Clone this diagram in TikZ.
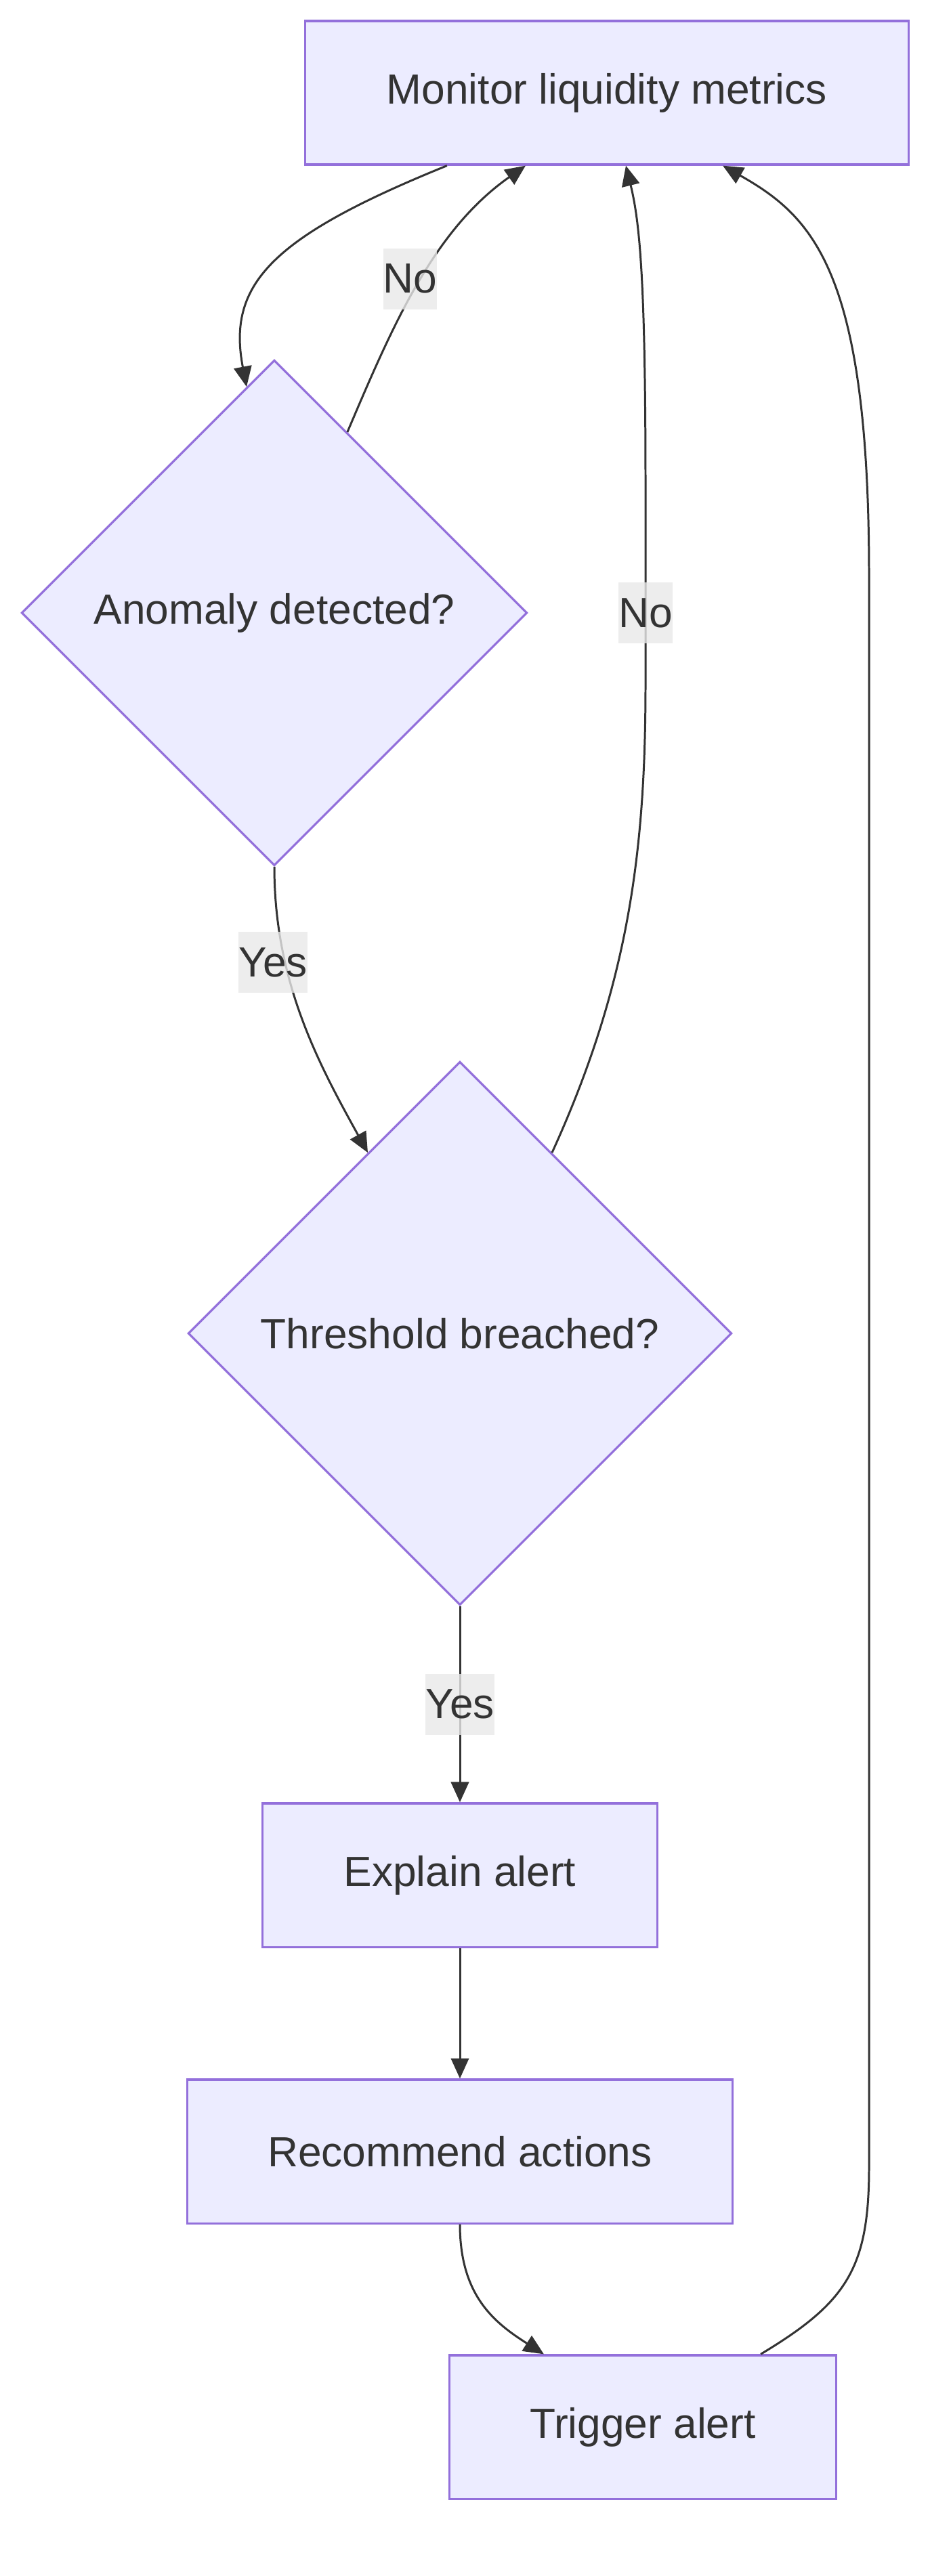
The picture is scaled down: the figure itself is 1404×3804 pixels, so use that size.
\documentclass[tikz,border=0pt]{standalone}
\usepackage{fontspec}
\setmainfont{Liberation Sans}
\usetikzlibrary{arrows.meta, shapes.geometric}
\definecolor{nodefill}{HTML}{ECECFF}
\definecolor{nodeline}{HTML}{9370DB}
\definecolor{edgeline}{HTML}{333333}
\definecolor{lblfill}{HTML}{E8E8E8}

\begin{document}
\begin{tikzpicture}[x=0.01cm, y=-0.01cm,
    font=\fontsize{17.7}{21}\selectfont, text=edgeline,
    procbox/.style={draw=nodeline, fill=nodefill, line width=0.9pt,
      minimum height=2.12cm, inner sep=0pt},
    decision/.style={diamond, aspect=1, draw=nodeline, fill=nodefill,
      line width=0.9pt, inner sep=0pt},
    flow/.style={draw=edgeline, line width=0.85pt,
      -{Triangle[length=8.5pt, width=7.5pt]}},
    edgelbl/.style={fill=lblfill, fill opacity=0.8, text opacity=1,
      inner sep=0pt, minimum height=0.9cm}]
  \useasboundingbox (0,0) rectangle (1404,3804);
  % nodes
  \node[procbox, minimum width=8.9cm] (monitor) at (896,137) {Monitor liquidity metrics};
  \node[decision, minimum size=7.46cm] (anomaly) at (405,905) {Anomaly detected?};
  \node[decision, minimum size=8.02cm] (threshold) at (679,1969) {Threshold breached?};
  \node[procbox, minimum width=5.82cm] (explain) at (679,2769) {Explain alert};
  \node[procbox, minimum width=8.05cm] (recommend) at (679,3177) {Recommend actions};
  \node[procbox, minimum width=5.7cm] (trigger) at (949,3584) {Trigger alert};
  % monitor -> anomaly
  \draw[flow] ([xshift=-2.36cm]monitor.south) .. controls (400,350) and (335,420) .. (anomaly.97);
  % anomaly -> monitor (no)
  \draw[flow] (anomaly.68) .. controls (580,480) and (640,340)
    .. node[edgelbl, xshift=-0.13cm, yshift=0.06cm] (lblnoa) {No} ([xshift=-1.2cm]monitor.south);
  % anomaly -> threshold (yes)
  \draw[flow] (anomaly.south) .. controls (405,1450) and (470,1570)
    .. node[edgelbl, pos=0.3, xshift=-0.18cm] (lblyesa) {Yes} (threshold.117);
  % threshold -> monitor (no)
  \draw[flow] (threshold.63) .. controls (930,1450) and (953,1250) .. (953,1010)
    -- node[edgelbl] (lblnob) {No} (953,800) -- (953,720)
    .. controls (953,420) and (945,330) .. ([xshift=0.28cm]monitor.south);
  % threshold -> explain (yes)
  \draw[flow] (threshold.south) -- node[edgelbl] (lblyesb) {Yes} (explain.north);
  \draw[flow] (explain.south) -- (recommend.north);
  \draw[flow] (recommend.south) .. controls (679,3390) and (730,3430) .. ([xshift=-1.46cm]trigger.north);
  % trigger -> monitor
  \draw[flow] ([xshift=1.74cm]trigger.north) .. controls (1250,3400) and (1283,3350) .. (1283,3200)
    -- (1283,850) .. controls (1283,400) and (1200,320) .. ([xshift=1.71cm]monitor.south);
\end{tikzpicture}
\end{document}
